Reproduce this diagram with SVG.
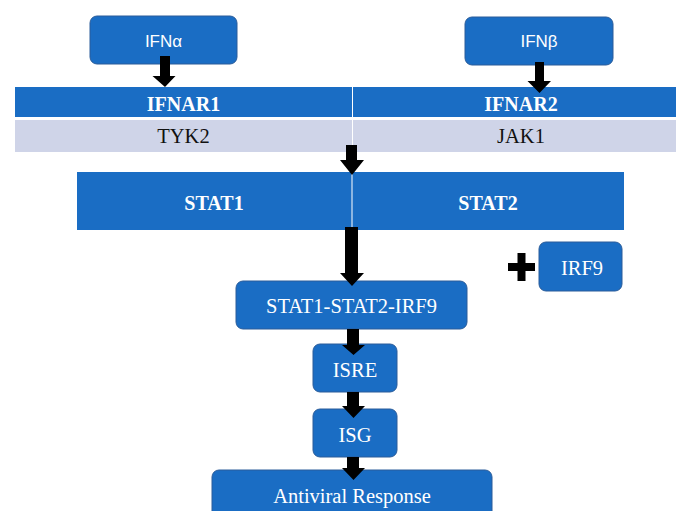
<svg xmlns="http://www.w3.org/2000/svg" width="676" height="511" viewBox="0 0 676 511">
<style>
.box{fill:#1A6DC4;stroke:#2A5C9A;stroke-width:1}
.bar{fill:#1A6DC4}
.lbar{fill:#CFD4E8}
.sans{font-family:"Liberation Sans",Arial,sans-serif;font-size:17px;fill:#FFFFFF;text-anchor:middle}
.serif{font-family:"Liberation Serif","Times New Roman",serif;font-size:20.5px;fill:#FFFFFF;text-anchor:middle}
.bold{font-weight:bold;font-size:20px}
.dark{fill:#111111}
.arr{fill:#000000}
</style>
<rect width="676" height="511" fill="#FFFFFF"/>
<g id="IFNa">
<rect class="box" x="90" y="16" width="147" height="48" rx="7"/>
<text class="sans" x="163.5" y="47">IFNα</text>
</g>
<g id="IFNb">
<rect class="box" x="465" y="17" width="148" height="48" rx="7"/>
<text class="sans" x="539" y="47">IFNβ</text>
</g>
<g id="IFNAR1">
<rect class="bar" x="15" y="87" width="337" height="30"/>
<text class="serif bold" x="183.5" y="111">IFNAR1</text>
</g>
<g id="IFNAR2">
<rect class="bar" x="353" y="87" width="323" height="30"/>
<text class="serif bold" x="521" y="111">IFNAR2</text>
</g>
<g id="TYK2">
<rect class="lbar" x="15" y="120" width="337" height="32"/>
<text class="serif dark" x="183.5" y="143">TYK2</text>
</g>
<g id="JAK1">
<rect class="lbar" x="353" y="120" width="323" height="32"/>
<text class="serif dark" x="521" y="143">JAK1</text>
</g>
<g id="STAT1">
<rect class="bar" x="77" y="172" width="274.5" height="58"/>
<text class="serif bold" x="214" y="210">STAT1</text>
</g>
<g id="STAT2">
<rect class="bar" x="352.5" y="172" width="271.5" height="58"/>
<text class="serif bold" x="488" y="210">STAT2</text>
</g>
<g id="IRF9">
<rect class="box" x="539" y="242" width="83" height="49" rx="7"/>
<text class="serif" x="582" y="275">IRF9</text>
</g>
<g id="plus">
<rect class="arr" x="508" y="263" width="27" height="8"/>
<rect class="arr" x="517.5" y="253" width="8" height="28"/>
</g>
<g id="complex">
<rect class="box" x="236" y="281" width="231" height="48" rx="7"/>
<text class="serif" x="351.5" y="313">STAT1-STAT2-IRF9</text>
</g>
<g id="ISRE">
<rect class="box" x="313" y="344" width="84" height="48" rx="7"/>
<text class="serif" x="355" y="377">ISRE</text>
</g>
<g id="ISG">
<rect class="box" x="313" y="409" width="84" height="48" rx="7"/>
<text class="serif" x="355" y="442">ISG</text>
</g>
<g id="Antiviral">
<rect class="box" x="212" y="470" width="280" height="60" rx="7"/>
<text class="serif" x="352" y="503">Antiviral Response</text>
</g>
<g id="connectors">
<polygon class="arr" points="160,56 170,56 170,76 175.5,76 165,87 152.5,76 160,76"/>
<polygon class="arr" points="535,62 544,62 544,81 551,81 539.5,93 527.5,81 535,81"/>
<polygon class="arr" points="346,145 357,145 357,160 364,160 352,175 340,160 346,160"/>
<polygon class="arr" points="345,227 358,227 358,273 364,273 352,286 340,273 345,273"/>
<polygon class="arr" points="347,329 359,329 359,345 365,345 353.5,355 342,345 347,345"/>
<polygon class="arr" points="347,392 359,392 359,406 365,406 353.5,418 342,406 347,406"/>
<polygon class="arr" points="347,457 359,457 359,468 365,468 353.5,480 342,468 347,468"/>
</g>
</svg>
